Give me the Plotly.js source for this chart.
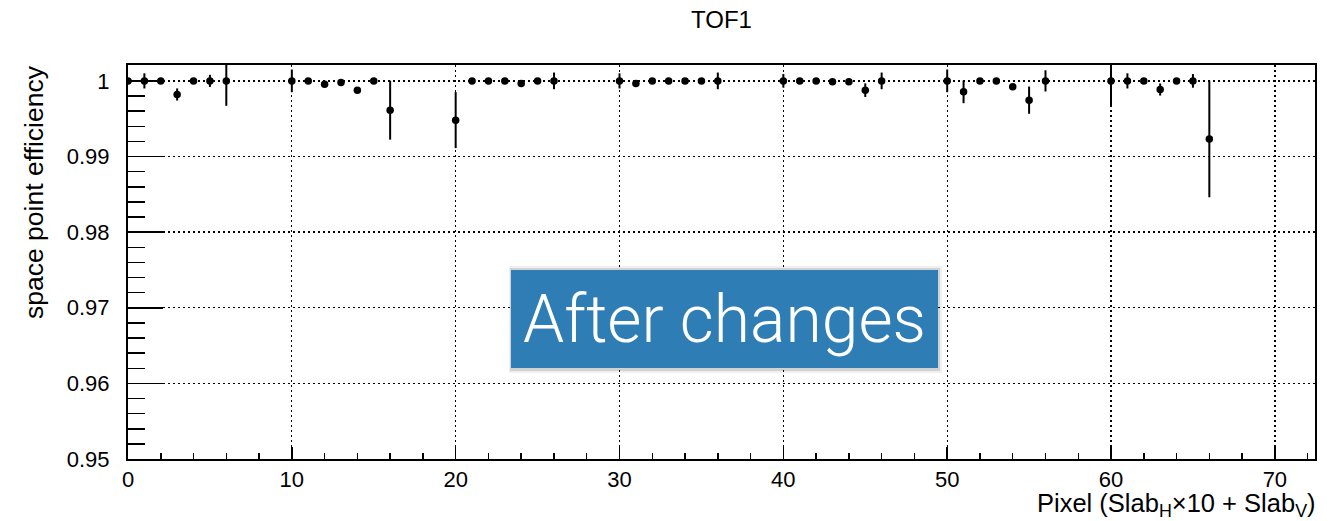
<!DOCTYPE html>
<html>
<head>
<meta charset="utf-8">
<script src="https://cdn.plot.ly/plotly-3.0.1.min.js"></script>
<style>html,body{margin:0;padding:0;background:#fff;}#chart{width:1327px;height:521px;}</style>
</head>
<body>
<div id="chart"></div>
<script>
// Pixel index = Slab_H*10 + Slab_V
const pixels = [0,1,2,3,4,5,6, 10,11,12,13,14,15,16, 20,21,22,23,24,25,26,
                30,31,32,33,34,35,36, 40,41,42,43,44,45,46, 50,51,52,53,54,55,56,
                60,61,62,63,64,65,66];
const efficiency = [1.0,1.0,1.0,0.9982,1.0,1.0,1.0,
                    1.0,1.0,0.99956,0.9998,0.99877,1.0,0.99613,
                    0.99481,1.0,1.0,1.0,0.99965,1.0,1.0,
                    1.0,0.99965,1.0,1.0,1.0,1.0,1.0,
                    1.0,1.0,1.0,0.9999,0.9999,0.99877,1.0,
                    1.0,0.99855,1.0,1.0,0.99921,0.99745,1.0,
                    1.0,1.0,1.0,0.99886,1.0,1.0,0.99231];
const errors = [0,0.001,0,0.0008,0,0.0008,0.0033,
                0.0015,0,0.0003,0.0002,0.0004,0,0.0039,
                0.0037,0,0,0,0.0002,0,0.0011,
                0.001,0.0002,0,0,0,0.0003,0.0011,
                0.0009,0,0,0,0,0.0009,0.0011,
                0.0015,0.0015,0,0,0.0003,0.0018,0.0014,
                0.0033,0.001,0,0.0008,0,0.0009,0.0077];
const xRange = [0, 72.45];
const yRange = [0.95, 1.0021];

const W = 1327, H = 521;
const M = {l:128, r:12, t:65, b:62};
const pw = W - M.l - M.r, ph = H - M.t - M.b;
const px = v => (v - M.l) / pw;          // pixel x -> paper
const py = v => (H - M.b - v) / ph;      // pixel y -> paper

const trace = {
  x: pixels, y: efficiency, type: 'scatter', mode: 'markers',
  marker: {color: '#000', size: 7.5, symbol: 'circle'},
  error_y: {type: 'data', array: errors, visible: true, color: '#000', thickness: 2, width: 0},
  cliponaxis: true, hoverinfo: 'x+y'
};

const font = 'Liberation Sans, Arial, Helvetica, sans-serif';
const axisCommon = {
  showline: true, linecolor: '#000', linewidth: 2, mirror: true,
  ticks: 'inside', tickcolor: '#000', tickwidth: 1.5,
  showgrid: true, gridcolor: '#000', gridwidth: 1.3, griddash: '2px,3px',
  zeroline: false, tickfont: {family: font, size: 22, color: '#000'}
};

const layout = {
  width: W, height: H, margin: M,
  paper_bgcolor: '#fff', plot_bgcolor: '#fff',
  showlegend: false,
  title: {text: 'TOF1', font: {family: font, size: 24, color: '#000'},
          xref: 'paper', x: 0.5, xanchor: 'center', yref: 'container', y: 1 - 20/H, yanchor: 'middle'},
  xaxis: Object.assign({}, axisCommon, {
    range: xRange, dtick: 10, tick0: 0, ticklen: 12, ticklabelstandoff: 0,
    minor: {dtick: 2, tick0: 0, ticks: 'inside', ticklen: 6, tickcolor: '#000', tickwidth: 1.5, showgrid: false}
  }),
  yaxis: Object.assign({}, axisCommon, {
    range: yRange, dtick: 0.01, tick0: 0.95, ticklen: 35, ticklabelstandoff: 12,
    minor: {dtick: 0.002, tick0: 0.95, ticks: 'inside', ticklen: 17, tickcolor: '#000', tickwidth: 1.5, showgrid: false}
  }),
  shapes: [
    {type: 'rect', xref: 'paper', yref: 'paper', layer: 'above',
     x0: px(509), x1: px(942), y0: py(266), y1: py(373),
     fillcolor: 'rgba(0,0,0,0.06)', line: {width: 0}},
    {type: 'rect', xref: 'paper', yref: 'paper', layer: 'above',
     x0: px(510), x1: px(940), y0: py(268), y1: py(371),
     fillcolor: 'rgba(0,0,0,0.12)', line: {width: 0}}
  ],
  annotations: [
    {text: 'space point efficiency', textangle: -90, showarrow: false,
     xref: 'paper', yref: 'paper', x: px(34), y: py(192), xanchor: 'center', yanchor: 'middle',
     font: {family: font, size: 26.5, color: '#000'}},
    {text: 'Pixel (Slab<sub>H</sub>×10 + Slab<sub>V</sub>)', showarrow: false,
     xref: 'paper', yref: 'paper', x: px(1318), y: py(487), xanchor: 'right', yanchor: 'top',
     font: {family: font, size: 25.5, color: '#000'}},
    {text: 'After changes', showarrow: false,
     xref: 'paper', yref: 'paper', x: px(724.5), y: py(319), xanchor: 'center', yanchor: 'middle',
     width: 427, height: 98, borderpad: 0, borderwidth: 0, bgcolor: '#2f7db5',
     font: {family: 'Roboto, Open Sans, sans-serif', size: 66, color: '#fff', weight: 300}}
  ]
};

Plotly.newPlot('chart', [trace], layout, {staticPlot: true, displayModeBar: false});
</script>
</body>
</html>
